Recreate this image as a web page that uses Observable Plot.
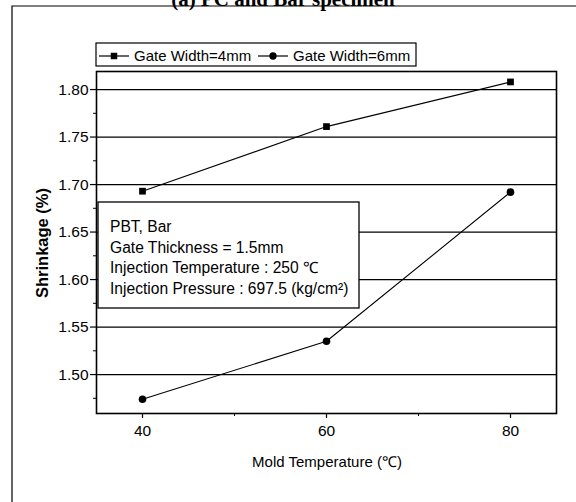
<!DOCTYPE html>
<html>
<head>
<meta charset="utf-8">
<script src="https://cdn.jsdelivr.net/npm/d3@7"></script>
<script src="https://cdn.jsdelivr.net/npm/@observablehq/plot@0.6"></script>
<style>
  html, body { margin: 0; padding: 0; background: #fff; }
  svg { display: block; }
</style>
</head>
<body>
<div id="chart"></div>
<script>
// Mold temperature (°C) and measured shrinkage (%) for two gate widths
const moldTemps = [40, 60, 80];
const shrinkWidth4 = [1.693, 1.761, 1.808];
const shrinkWidth6 = [1.474, 1.535, 1.692];
const seriesNames = ["Gate Width=4mm", "Gate Width=6mm"];
const seriesSymbols = ["square", "circle"];

const yMajor = [1.50, 1.55, 1.60, 1.65, 1.70, 1.75, 1.80];
const yMinor = [1.475, 1.525, 1.575, 1.625, 1.675, 1.725, 1.775];
const xMajor = [40, 60, 80];
const xMinor = [50, 70];

const noteLines = [
  "PBT, Bar",
  "Gate Thickness = 1.5mm",
  "Injection Temperature : 250 ℃",
  "Injection Pressure : 697.5 (kg/cm²)"
];

const rows = [
  ...moldTemps.map((t, i) => ({series: seriesNames[0], temp: t, value: shrinkWidth4[i]})),
  ...moldTemps.map((t, i) => ({series: seriesNames[1], temp: t, value: shrinkWidth6[i]}))
];

const font = "Liberation Sans, Arial, sans-serif";

const plot = Plot.plot({
  width: 576,
  height: 502,
  marginTop: 71,
  marginBottom: 89,
  marginLeft: 96,
  marginRight: 20,
  style: {fontFamily: font, fontSize: "15px", color: "#000", background: "#fff"},
  x: {domain: [35, 85]},
  y: {domain: [1.459, 1.819]},
  symbol: {domain: seriesNames, range: seriesSymbols},
  marks: [
    Plot.ruleY(yMajor, {stroke: "#000", strokeWidth: 1.3}),
    Plot.line(rows, {x: "temp", y: "value", z: "series", stroke: "#000", strokeWidth: 1.1}),
    Plot.dot(rows, {x: "temp", y: "value", symbol: "series", fill: "#000", r: 3.8}),
    Plot.axisY(yMajor, {tickSize: 6, tickFormat: d3.format(".2f"), tickPadding: 2, label: null, fontSize: 15.5, strokeWidth: 1.2}),
    Plot.axisY(yMinor, {tickSize: 3, text: null, label: null, strokeWidth: 1}),
    Plot.axisX(xMajor, {tickSize: 5, tickPadding: 6, label: null, fontSize: 15.5, strokeWidth: 1.2}),
    Plot.axisX(xMinor, {tickSize: 3, text: null, label: null, strokeWidth: 1}),
    Plot.frame({stroke: "#000", strokeWidth: 1.6})
  ]
});

const svg = d3.select(plot);

// Outer figure border (top and left edges)
svg.append("path")
  .attr("d", "M12,502V6H576")
  .attr("fill", "none").attr("stroke", "#000").attr("stroke-width", 1.2);

// Panel title (its upper half runs off the top edge)
svg.append("text")
  .attr("x", 283).attr("y", 6)
  .attr("text-anchor", "middle")
  .attr("font-family", "Liberation Serif, Times New Roman, serif")
  .attr("font-weight", "bold").attr("font-size", 21)
  .text("(a) PC and Bar specimen");

// Axis titles
svg.append("text")
  .attr("transform", "translate(48,243) rotate(-90)")
  .attr("text-anchor", "middle")
  .attr("font-family", font).attr("font-weight", "bold").attr("font-size", 16.5)
  .text("Shrinkage (%)");
svg.append("text")
  .attr("x", 327).attr("y", 467)
  .attr("text-anchor", "middle")
  .attr("font-family", font).attr("font-size", 15)
  .text("Mold Temperature (℃)");

// Legend
const legend = svg.append("g");
legend.append("rect")
  .attr("x", 96).attr("y", 43).attr("width", 320).attr("height", 23)
  .attr("fill", "#fff").attr("stroke", "#000").attr("stroke-width", 1.2);
const legendItems = [
  {name: seriesNames[0], symbol: d3.symbolSquare, x0: 99},
  {name: seriesNames[1], symbol: d3.symbolCircle, x0: 258}
];
legendItems.forEach(it => {
  legend.append("path")
    .attr("d", `M${it.x0},56H${it.x0 + 30}`)
    .attr("fill", "none").attr("stroke", "#000").attr("stroke-width", 1.2);
  legend.append("path")
    .attr("d", d3.symbol(it.symbol, 42)())
    .attr("transform", `translate(${it.x0 + 15},56)`)
    .attr("fill", "#000").attr("stroke", "none");
  legend.append("text")
    .attr("x", it.x0 + 35).attr("y", 61)
    .attr("text-anchor", "start")
    .attr("font-family", font).attr("font-size", 15)
    .text(it.name);
});

// Process-condition note
const note = svg.append("g");
note.append("rect")
  .attr("x", 98).attr("y", 202).attr("width", 261).attr("height", 106)
  .attr("fill", "#fff").attr("stroke", "#000").attr("stroke-width", 1.3);
noteLines.forEach((line, i) => {
  note.append("text")
    .attr("x", 110).attr("y", 232 + i * 20.5)
    .attr("text-anchor", "start")
    .attr("font-family", font).attr("font-size", 15.6)
    .text(line);
});

document.getElementById("chart").appendChild(plot);
</script>
</body>
</html>
